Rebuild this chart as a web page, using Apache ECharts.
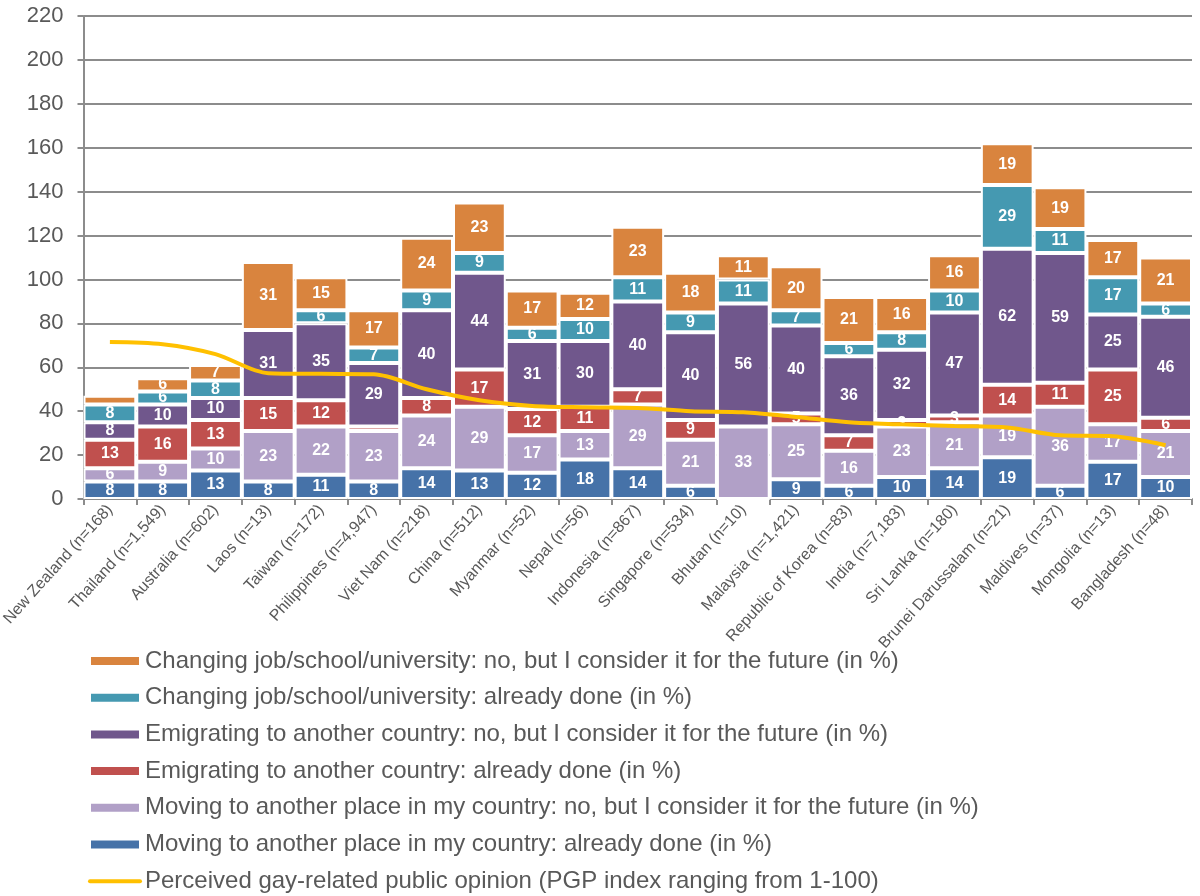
<!DOCTYPE html>
<html>
<head>
<meta charset="utf-8">
<script src="https://cdn.jsdelivr.net/npm/echarts@6/dist/echarts.min.js"></script>
<style>
html,body{margin:0;padding:0;background:#fff;}
#chart{width:1200px;height:896px;}
</style>
</head>
<body>
<div id="chart"></div>
<script>
const categories = ['New Zealand (n=168)','Thailand (n=1,549)','Australia (n=602)','Laos (n=13)','Taiwan (n=172)','Philippines (n=4,947)','Viet Nam (n=218)','China (n=512)','Myanmar (n=52)','Nepal (n=56)','Indonesia (n=867)','Singapore (n=534)','Bhutan (n=10)','Malaysia (n=1,421)','Republic of Korea (n=83)','India (n=7,183)','Sri Lanka (n=180)','Brunei Darussalam (n=21)','Maldives (n=37)','Mongolia (n=13)','Bangladesh (n=48)'];

const movingDone     = [8,8,13,8,11,8,14,13,12,18,14,6,0,9,6,10,14,19,6,17,10];
const movingConsider = [6,9,10,23,22,23,24,29,17,13,29,21,33,25,16,23,21,19,36,17,21];
const emigDone       = [13,16,13,15,12,2,8,17,12,11,7,9,0,5,7,3,3,14,11,25,6];
const emigConsider   = [8,10,10,31,35,29,40,44,31,30,40,40,56,40,36,32,47,62,59,25,46];
const changeDone     = [8,6,8,0,6,7,9,9,6,10,11,9,11,7,6,8,10,29,11,17,6];
const changeConsider = [4,6,7,31,15,17,24,23,17,12,23,18,11,20,21,16,16,19,19,17,21];
const pgpIndex       = [71.5,70.5,66,57.3,57,56.8,50,45,42.4,41.8,41.5,40,39.5,37.4,35,34,33.2,32.6,29,28.6,24.5];

const yTicks = [0,20,40,60,80,100,120,140,160,180,200,220];

const seriesNames = [
  'Moving to another place in my country: already done (in %)',
  'Moving to another place in my country: no, but I consider it for the future (in %)',
  'Emigrating to another country: already done (in %)',
  'Emigrating to another country: no, but I consider it for the future (in %)',
  'Changing job/school/university: already done (in %)',
  'Changing job/school/university: no, but I consider it for the future (in %)'
];
const lineName = 'Perceived gay-related public opinion (PGP index ranging from 1-100)';
const barValues = [movingDone, movingConsider, emigDone, emigConsider, changeDone, changeConsider];
const barColors = ['#4672A8','#B1A0C7','#C0504E','#70578C','#4599B1','#D9843E'];
// labels that are not printed in the reference: [series, category]
const hiddenLabels = [[5,0]];

const FONT = '"Liberation Sans", Arial, sans-serif';
const GRAY = '#8c8c8c';
const TXT = '#595959';

const series = barValues.map((vals, si) => ({
  name: seriesNames[si],
  type: 'bar',
  stack: 'total',
  barCategoryGap: '0%',
  itemStyle: { color: barColors[si], borderColor: '#ffffff', borderWidth: 2 },
  label: {
    show: true, position: 'inside', color: '#ffffff', fontWeight: 'bold',
    fontSize: 16, fontFamily: FONT,
    formatter: p => (p.value >= 3 ? String(p.value) : '')
  },
  data: vals.map((v, ci) => {
    const hide = hiddenLabels.some(h => h[0] === si && h[1] === ci);
    return hide ? { value: v, label: { show: false } } : v;
  }),
  z: 2
}));

series.push({
  name: lineName,
  type: 'line',
  data: pgpIndex,
  smooth: 0.3,
  symbol: 'none',
  lineStyle: { color: '#FFC000', width: 4 },
  itemStyle: { color: '#FFC000' },
  z: 5
});

const legendOrder = [seriesNames[5], seriesNames[4], seriesNames[3], seriesNames[2], seriesNames[1], seriesNames[0], lineName];

const chart = echarts.init(document.getElementById('chart'), null, { renderer: 'canvas' });
chart.setOption({
  animation: false,
  backgroundColor: '#ffffff',
  textStyle: { fontFamily: FONT },
  grid: { left: 83.5, right: 8, top: 16, bottom: 397, containLabel: false, outerBoundsMode: 'none' },
  legend: {
    orient: 'vertical',
    left: 88,
    top: 649,
    height: 247,
    padding: 0,
    itemWidth: 50,
    itemHeight: 10,
    itemGap: 12.7,
    data: legendOrder.map((n, i) => i < 6
      ? { name: n, icon: 'rect' }
      : { name: n, itemStyle: { opacity: 0 }, lineStyle: { width: 4, cap: 'round' } }),
    textStyle: { fontSize: 24, color: TXT, fontFamily: FONT, lineHeight: 24 },
    selectedMode: false
  },
  xAxis: {
    type: 'category',
    data: categories,
    axisLine: { lineStyle: { color: GRAY, width: 2 } },
    axisTick: { show: true, length: 6, lineStyle: { color: GRAY, width: 2 } },
    axisLabel: { interval: 0, rotate: 48, fontSize: 16, color: TXT, fontFamily: FONT, margin: 8 }
  },
  yAxis: {
    type: 'value',
    min: yTicks[0],
    max: yTicks[yTicks.length - 1],
    interval: 20,
    axisLine: { show: true, lineStyle: { color: GRAY, width: 2 } },
    axisTick: { show: true, length: 6, lineStyle: { color: GRAY, width: 2 } },
    axisLabel: { fontSize: 22, color: TXT, fontFamily: FONT, margin: 20 },
    splitLine: { show: true, lineStyle: { color: GRAY, width: 2 } }
  },
  series: series
});
</script>
</body>
</html>
